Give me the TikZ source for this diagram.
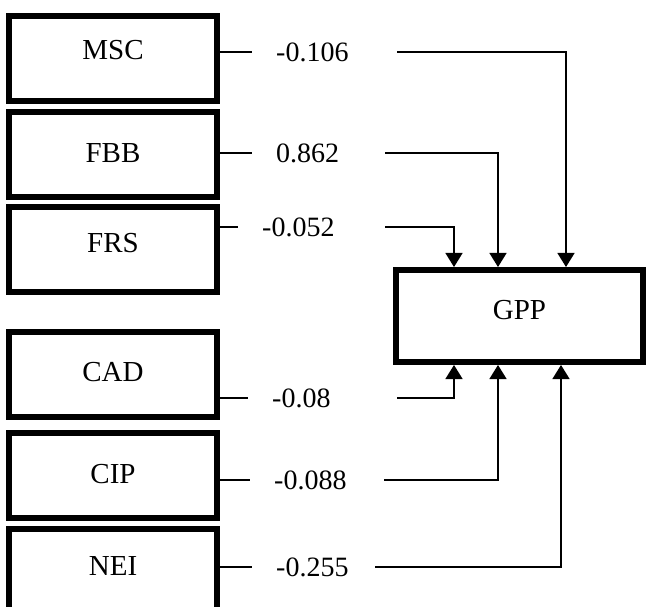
\documentclass[tikz,border=0pt]{standalone}
\usepackage{fontspec}
\setmainfont{Liberation Serif}
\usetikzlibrary{arrows.meta}
\usetikzlibrary{positioning}

\begin{document}
\begin{tikzpicture}[x=1pt,y=-1pt,
  varbox/.style={draw, line width=6pt, minimum width=208pt, minimum height=85pt,
    inner sep=0pt, font=\fontsize{29}{34}\selectfont},
  lift/.style={text depth=#1},
  coef/.style={anchor=west, inner xsep=24pt, inner ysep=0pt,
    font=\fontsize{28}{34}\selectfont},
  link/.style={line width=1.4pt},
  arr/.style={link, -{Triangle[width=17pt,length=14pt]}}]
  \useasboundingbox (0,0) rectangle (646,607);

  % variable boxes
  \node[varbox, lift=18pt] (MSC) at (113,59) {MSC};
  \node[varbox, lift=4pt] (FBB) at (113,155) {FBB};
  \node[varbox, lift=13pt] (FRS) at (113,249.5) {FRS};
  \node[varbox, lift=4pt] (CAD) at (113,374) {CAD};
  \node[varbox, lift=4pt] (CIP) at (113,475.5) {CIP};
  \node[varbox, lift=10pt] (NEI) at (113,571) {NEI};
  \node[varbox, lift=12pt, minimum width=247pt, minimum height=92pt] (GPP) at (519.5,316) {GPP};

  % coefficients
  \node[coef] (vMSC) at (252,52) {-0.106};
  \node[coef] (vFBB) at (252,153) {0.862};
  \node[coef] (vFRS) at (238,227) {-0.052};
  \node[coef] (vCAD) at (248,398) {-0.08};
  \node[coef] (vCIP) at (250,480) {-0.088};
  \node[coef] (vNEI) at (252,567) {-0.255};

  \foreach \v in {MSC,FBB,FRS,CAD,CIP,NEI}
    \draw[link] (\v.east |- v\v.west) -- (v\v.west);

  \coordinate (sMSC) at (397,52);
  \coordinate (sFBB) at (385,153);
  \coordinate (sFRS) at (385,227);
  \coordinate (sCAD) at (397,398);
  \coordinate (sCIP) at (384,480);
  \coordinate (sNEI) at (375,567);

  \draw[arr] (sMSC) -| ([xshift=173pt]GPP.north west);
  \draw[arr] (sFBB) -| ([xshift=105pt]GPP.north west);
  \draw[arr] (sFRS) -| ([xshift=61pt]GPP.north west);
  \draw[arr] (sCAD) -| ([xshift=61pt]GPP.south west);
  \draw[arr] (sCIP) -| ([xshift=105pt]GPP.south west);
  \draw[arr] (sNEI) -| ([xshift=168pt]GPP.south west);
\end{tikzpicture}
\end{document}
